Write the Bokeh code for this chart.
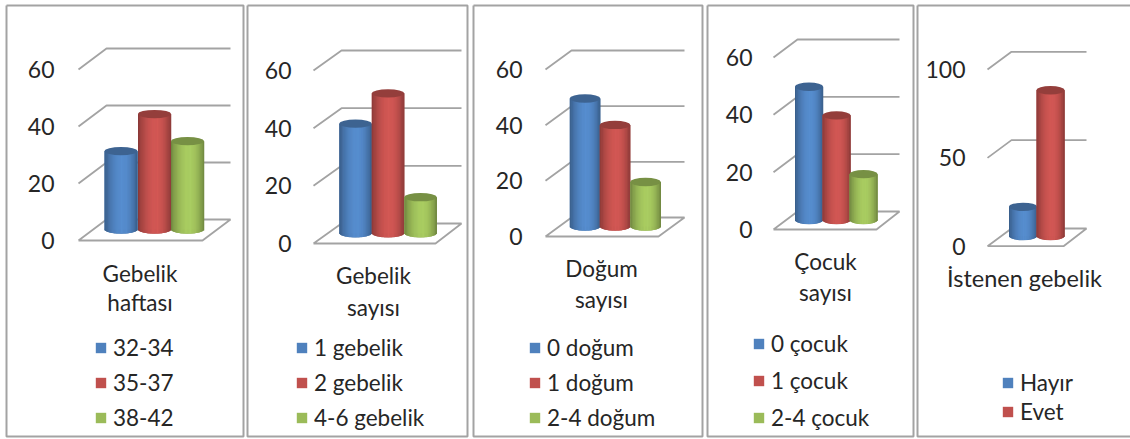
from bokeh.embed import file_html
from bokeh.layouts import row
from bokeh.models import FixedTicker, Legend, LegendItem, Range1d
from bokeh.plotting import figure
from bokeh.resources import INLINE
from bokeh.core.properties import value as fixed

# Percentages per group
gestation_labels = ["32-34", "35-37", "38-42"]
gestation_values = [27.5, 40.5, 31]
pregnancy_labels = ["1 gebelik", "2 gebelik", "4-6 gebelik"]
pregnancy_values = [38, 48.5, 12.5]
birth_labels = ["0 doğum", "1 doğum", "2-4 doğum"]
birth_values = [46, 36.5, 16]
child_labels = ["0 çocuk", "1 çocuk", "2-4 çocuk"]
child_values = [46.5, 36.5, 16]
wanted_labels = ["Hayır", "Evet"]
wanted_values = [16.5, 82.5]

COLORS = ["#4f81bd", "#c0504d", "#9bbb59"]
INK = "#262626"
RULE = "#a3a3a3"
FONT = "Lato"
HEIGHT = 439


def shade(hex_color, t):
    """Cylinder lighting: dark flanks, brightest a little right of the axis."""
    span = 0.55 if t <= 0.55 else 0.45
    k = 0.70 + 0.40 * (1 - ((t - 0.55) / span) ** 2)
    rgb = [int(hex_color[i:i + 2], 16) for i in (1, 3, 5)]
    return "#%02x%02x%02x" % tuple(min(255, round(c * k)) for c in rgb)


def panel(spec):
    x0, x1 = spec["fig"]
    fl, fr, bl, br = spec["floor_x"]
    y0, yb, ytop, vtop = spec["floor_y"]
    ppu = (y0 - ytop) / vtop  # pixels per unit on the front plane
    to_y = lambda py: (y0 - py) / ppu

    p = figure(
        width=x1 - x0, height=HEIGHT, output_backend="svg", toolbar_location=None,
        x_range=Range1d(x0, x1), y_range=Range1d(to_y(HEIGHT), to_y(0)),
        min_border_left=0, min_border_right=0, min_border_top=0, min_border_bottom=0,
        outline_line_color=None, background_fill_color="white", border_fill_color="white",
    )
    p.xaxis.visible = False
    p.grid.visible = False

    # Panel frame
    bx0, bx1 = spec["box"]
    p.line([bx0, bx1, bx1, bx0, bx0],
           [to_y(5), to_y(5), to_y(436), to_y(436), to_y(5)],
           line_color=RULE, line_width=2)

    # Value axis sits inside the frame, just left of the floor
    ax = p.yaxis[0]
    ax.fixed_location = spec["axis_x"]
    ax.ticker = FixedTicker(ticks=spec["ticks"])
    ax.axis_line_color = None
    ax.major_tick_line_color = None
    ax.minor_tick_line_color = None
    ax.major_label_standoff = 0
    ax.major_label_text_font = FONT
    ax.major_label_text_font_size = "23px"
    ax.major_label_text_color = INK

    # Back-wall gridlines, each stepping from the front plane to the wall
    depth = (y0 - yb) / ppu
    ticks = [t for t in spec["ticks"] if t > 0]
    p.multi_line(
        [[fl, bl, br] for _ in ticks],
        [[t, t + depth, t + depth] for t in ticks],
        line_color=RULE, line_width=1.8,
    )
    # Floor outline
    p.line([fl, fr, br, bl, fl], [0, 0, depth, depth, 0], line_color=RULE, line_width=1.8)

    # Cylinders
    centers, hw = spec["bars"]
    base = (y0 - spec["bar_base"]) / ppu
    cap = 4.2 / ppu
    strips = 40
    items = []
    for i, (cx, v, name) in enumerate(zip(centers, spec["values"], spec["labels"])):
        color = COLORS[i]
        top = base + v
        p.ellipse([cx], [base], width=2 * hw, height=2 * cap,
                  fill_color=shade(color, 0.15), line_color=None)
        body = p.quad(left=[cx - hw], right=[cx + hw], bottom=[base], top=[top],
                      fill_color=color, line_color=None)
        ls, rs, bs, cs = [], [], [], []
        for k in range(strips):
            t = (k + 0.5) / strips
            ls.append(cx - hw + 2 * hw * k / strips)
            rs.append(cx - hw + 2 * hw * (k + 1) / strips + 0.25)
            bs.append(base - 0.97 * cap * (1 - (2 * t - 1) ** 2) ** 0.5)
            cs.append(shade(color, t))
        p.quad(left=ls, right=rs, bottom=bs, top=[top] * strips, fill_color=cs, line_color=None)
        p.ellipse([cx], [top], width=2 * hw, height=2 * cap,
                  fill_color=shade(color, 0.05), line_color=None)
        items.append(LegendItem(label=fixed(name), renderers=[body]))

    # Category caption
    cx_text, lines, size = spec["caption"]
    p.text(
        [cx_text] * len(lines), [to_y(py) for _, py in lines], text=[s for s, _ in lines],
        text_font=fixed(FONT), text_font_size=size, text_color=INK,
        text_align="center", text_baseline="middle",
    )

    # Legend
    lx, ly, gap = spec["legend"]
    legend = Legend(
        items=items, location=(lx - x0, HEIGHT - ly), orientation="vertical",
        glyph_width=13, glyph_height=13, label_standoff=6, spacing=gap, label_height=20,
        margin=0, padding=0, border_line_color=None, background_fill_alpha=0,
        label_text_font=FONT, label_text_font_size="22.5px", label_text_color=INK,
        label_text_baseline="middle",
    )
    p.add_layout(legend, "center")
    return p


specs = [
    dict(fig=(0, 245), box=(6, 243), axis_x=60, ticks=[0, 20, 40, 60],
         floor_x=(78, 202, 106, 230), floor_y=(240, 219, 69, 60), bar_base=229,
         bars=([120.5, 154, 187], 16.5), values=gestation_values, labels=gestation_labels,
         caption=(139.5, [("Gebelik", 273), ("haftası", 302)], "22.5px"), legend=(94, 431, 8)),
    dict(fig=(245, 470), box=(247, 467), axis_x=297, ticks=[0, 20, 40, 60],
         floor_x=(313, 435, 341, 461), floor_y=(243, 223, 70, 60), bar_base=232.7,
         bars=([355, 387.5, 420], 16.2), values=pregnancy_values, labels=pregnancy_labels,
         caption=(373, [("Gebelik", 275), ("sayısı", 307)], "22.5px"), legend=(295, 431, 8)),
    dict(fig=(470, 704), box=(473, 702), axis_x=528, ticks=[0, 20, 40, 60],
         floor_x=(545, 658, 571, 684), floor_y=(236, 217, 69, 60), bar_base=226,
         bars=([584.5, 614.5, 645], 15.2), values=birth_values, labels=birth_labels,
         caption=(601, [("Doğum", 268), ("sayısı", 299)], "22.5px"), legend=(528, 431, 8)),
    dict(fig=(704, 915), box=(707, 913), axis_x=758, ticks=[0, 20, 40, 60],
         floor_x=(773, 876, 797, 899), floor_y=(229, 211, 57, 60), bar_base=219.5,
         bars=([808.5, 836, 863], 14), values=child_values, labels=child_labels,
         caption=(825, [("Çocuk", 261), ("sayısı", 292)], "22.5px"), legend=(752, 431, 10)),
    dict(fig=(915, 1130), box=(917, 1140), axis_x=971, ticks=[0, 50, 100],
         floor_x=(987, 1063, 1011, 1086), floor_y=(245.7, 228, 69, 100), bar_base=235.5,
         bars=([1022.5, 1050], 14), values=wanted_values, labels=wanted_labels,
         caption=(1024, [("İstenen gebelik", 277)], "23.5px"), legend=(1001, 425, 2)),
]

layout = row(*[panel(s) for s in specs], spacing=0)
open("out.html", "w").write(file_html(layout, INLINE))
